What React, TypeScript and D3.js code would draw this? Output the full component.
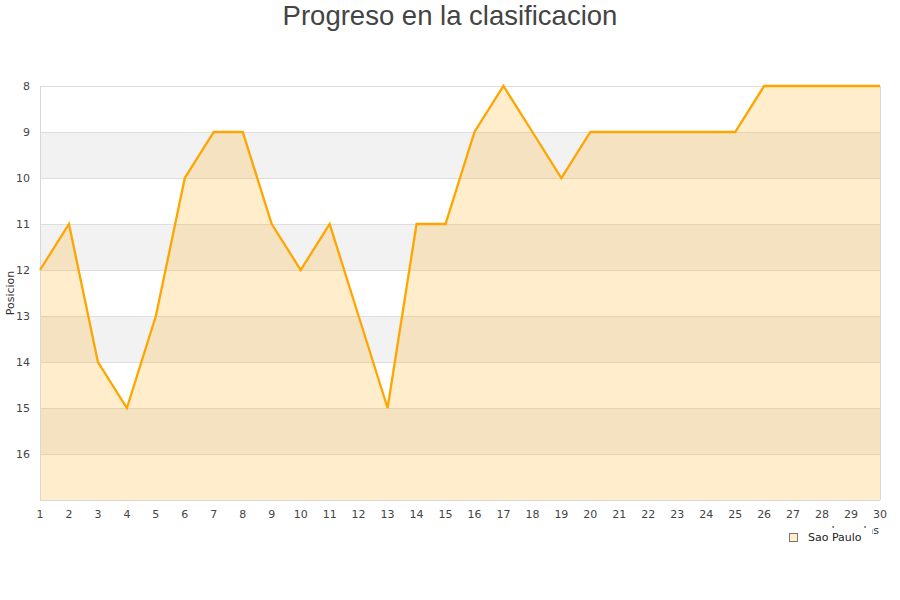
import { useEffect, useRef } from 'react'
import * as d3 from 'd3'

const rounds = [1, 2, 3, 4, 5, 6, 7, 8, 9, 10, 11, 12, 13, 14, 15, 16, 17, 18, 19, 20, 21, 22, 23, 24, 25, 26, 27, 28, 29, 30]
const positions = [12, 11, 14, 15, 13, 10, 9, 9, 11, 12, 11, 13, 15, 11, 11, 9, 8, 9, 10, 9, 9, 9, 9, 9, 9, 8, 8, 8, 8, 8]
const yTicks = [8, 9, 10, 11, 12, 13, 14, 15, 16]
const seriesName = 'Sao Paulo'
const title = 'Progreso en la clasificacion'
const yTitle = 'Posicion'
const xTitle = 'Jornadas'

export default function App() {
  const svgRef = useRef<SVGSVGElement>(null)

  useEffect(() => {
    if (!svgRef.current) return
    const svg = d3.select(svgRef.current)
    svg.selectAll('*').remove()

    const width = 900
    const height = 600
    const margin = { top: 86, right: 20, bottom: 100, left: 40 }
    const innerW = width - margin.left - margin.right
    const innerH = height - margin.top - margin.bottom

    const x = d3.scaleLinear().domain([1, 30]).range([0, innerW])
    const y = d3.scaleLinear().domain([8, 17]).range([0, innerH])

    const g = svg.append('g').attr('transform', `translate(${margin.left},${margin.top})`)

    // alternating bands
    g.selectAll('.band')
      .data(yTicks.filter(t => t % 2 === 1))
      .join('rect')
      .attr('x', 0)
      .attr('width', innerW)
      .attr('y', d => y(d))
      .attr('height', d => y(d + 1) - y(d))
      .attr('fill', '#f2f2f2')

    // grid lines
    g.selectAll('.grid')
      .data(yTicks)
      .join('line')
      .attr('x1', 0)
      .attr('x2', innerW)
      .attr('y1', d => y(d) + 0.5)
      .attr('y2', d => y(d) + 0.5)
      .attr('stroke', '#dedede')

    const pts = rounds.map((r, i) => ({ r, p: positions[i] }))

    const area = d3.area<{ r: number; p: number }>()
      .x(d => x(d.r))
      .y0(innerH)
      .y1(d => y(d.p))
    g.append('path')
      .datum(pts)
      .attr('d', area)
      .attr('fill', 'rgba(255,165,0,0.2)')

    // frame
    g.append('line').attr('x1', 0.5).attr('x2', 0.5).attr('y1', 0).attr('y2', innerH).attr('stroke', '#d8d8d8')
    g.append('line').attr('x1', innerW + 0.5).attr('x2', innerW + 0.5).attr('y1', 0).attr('y2', innerH).attr('stroke', '#d8d8d8')
    g.append('line').attr('x1', 0).attr('x2', innerW).attr('y1', innerH + 0.5).attr('y2', innerH + 0.5).attr('stroke', '#d8d8d8')

    const line = d3.line<{ r: number; p: number }>()
      .x(d => x(d.r))
      .y(d => y(d.p))
    g.append('path')
      .datum(pts)
      .attr('d', line)
      .attr('fill', 'none')
      .attr('stroke', '#ffa500')
      .attr('stroke-width', 2.3)
      .attr('stroke-linejoin', 'miter')

    // y tick labels
    g.selectAll('.ylab')
      .data(yTicks)
      .join('text')
      .attr('x', -10)
      .attr('y', d => y(d))
      .attr('dy', '0.35em')
      .attr('text-anchor', 'end')
      .attr('font-family', 'DejaVu Sans, sans-serif')
      .attr('font-size', 11)
      .attr('fill', '#444')
      .text(d => d)

    // x tick labels
    g.selectAll('.xlab')
      .data(rounds)
      .join('text')
      .attr('x', d => x(d))
      .attr('y', innerH + 18)
      .attr('text-anchor', 'middle')
      .attr('font-family', 'DejaVu Sans, sans-serif')
      .attr('font-size', 11)
      .attr('fill', '#444')
      .text(d => d)

    // axis titles
    svg.append('text')
      .attr('transform', `translate(14,${margin.top + (y(12.5))}) rotate(-90)`)
      .attr('text-anchor', 'middle')
      .attr('font-family', 'DejaVu Sans, sans-serif')
      .attr('font-size', 11)
      .attr('fill', '#333')
      .text(yTitle)

    // x title sits behind the legend, as in the original
    svg.append('text')
      .attr('x', 879)
      .attr('y', 534)
      .attr('text-anchor', 'end')
      .attr('font-family', 'DejaVu Sans, sans-serif')
      .attr('font-size', 11)
      .attr('fill', '#333')
      .text(xTitle)

    const legend = svg.append('g').attr('transform', 'translate(783,528)')
    legend.append('rect').attr('width', 89).attr('height', 20).attr('fill', '#fff')
    legend.append('rect')
      .attr('x', 6.5).attr('y', 5.5).attr('width', 8).attr('height', 8)
      .attr('fill', '#ffedcc').attr('stroke', '#777')
    legend.append('text')
      .attr('x', 25)
      .attr('y', 13)
      .attr('font-family', 'DejaVu Sans, sans-serif')
      .attr('font-size', 11)
      .attr('fill', '#222')
      .text(seriesName)

    // title
    svg.append('text')
      .attr('x', width / 2)
      .attr('y', 25)
      .attr('text-anchor', 'middle')
      .attr('font-family', 'Liberation Sans, Arial, sans-serif')
      .attr('font-size', 27.5)
      .attr('fill', '#444')
      .text(title)
  }, [])

  return (
    <div style={{ position: 'fixed', left: 0, top: 0, width: 900, height: 600, background: '#fff' }}>
      <svg ref={svgRef} width={900} height={600} />
    </div>
  )
}
